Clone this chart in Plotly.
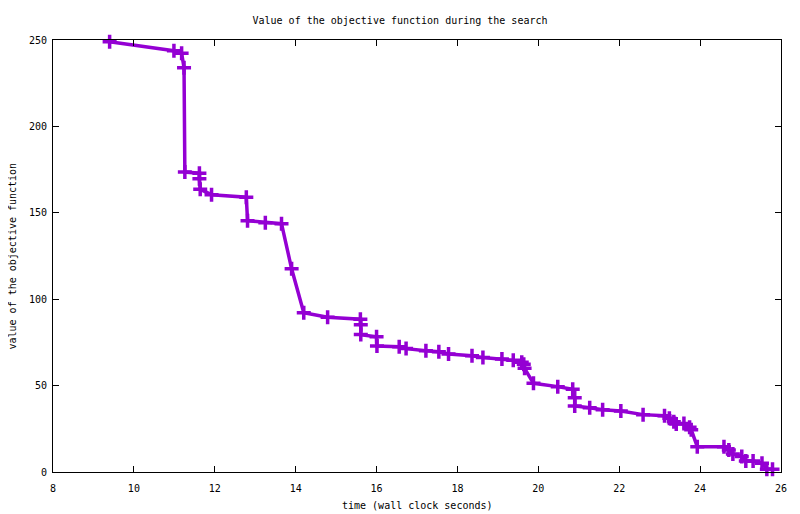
import plotly.graph_objects as go

time_s = [9.40, 10.99, 11.18, 11.24, 11.26, 11.62, 11.62, 11.64, 11.92, 12.78,
          12.81, 13.25, 13.65, 13.90, 14.20, 14.79, 15.60, 15.61, 15.61, 16.00,
          16.01, 16.56, 16.73, 17.22, 17.54, 17.78, 18.36, 18.63, 19.10, 19.38,
          19.59, 19.64, 19.66, 19.88, 20.48, 20.85, 20.90, 20.90, 21.27, 21.59,
          22.04, 22.59, 23.12, 23.24, 23.35, 23.41, 23.60, 23.74, 23.78, 23.93,
          24.59, 24.71, 24.81, 25.03, 25.13, 25.31, 25.53, 25.65, 25.79]
objective = [249.0, 243.8, 242.3, 234.0, 173.6, 172.9, 169.7, 163.6, 160.5, 159.0,
             145.4, 144.3, 143.7, 117.6, 92.2, 89.5, 88.4, 85.2, 79.5, 78.3,
             72.9, 72.5, 71.4, 70.2, 69.6, 68.3, 67.3, 66.2, 65.4, 64.6,
             63.5, 62.3, 60.0, 51.3, 49.4, 47.9, 43.0, 38.2, 37.2, 36.0,
             35.3, 33.2, 32.6, 31.1, 29.1, 27.8, 28.0, 25.9, 24.5, 14.6,
             14.6, 12.7, 10.4, 8.9, 6.4, 6.4, 5.0, 1.6, 1.6]

x_ticks = [8, 10, 12, 14, 16, 18, 20, 22, 24, 26]
y_ticks = [0, 50, 100, 150, 200, 250]

FONT = "DejaVu Sans Mono"
COLOR = "#9400D3"
TEXT_FONT = dict(family=FONT, size=10, color="black")

fig = go.Figure()
fig.add_trace(go.Scatter(
    x=time_s, y=objective, mode="lines+markers",
    line=dict(color=COLOR, width=3.5),
    marker=dict(symbol="cross-thin", size=10, color=COLOR,
                line=dict(color=COLOR, width=3.5)),
    showlegend=False, cliponaxis=False,
))

axis_common = dict(
    showline=True, linecolor="black", linewidth=1, mirror="ticks",
    ticks="inside", ticklen=6, tickcolor="black", tickwidth=1,
    showgrid=False, zeroline=False, automargin=False,
    tickfont=TEXT_FONT,
)

fig.update_layout(
    width=784, height=506,
    margin=dict(l=45, r=11, t=32, b=42),
    paper_bgcolor="white", plot_bgcolor="white",
    title=dict(text="Value of the objective function during the search",
               x=0.5, xanchor="center", y=1, yanchor="middle", pad=dict(t=0),
               yref="container", font=TEXT_FONT),
    xaxis=dict(range=[8, 26], tickvals=x_ticks, ticktext=[str(v) for v in x_ticks],
               ticklabelstandoff=7, **axis_common),
    yaxis=dict(range=[0, 250], tickvals=y_ticks, ticktext=[str(v) for v in y_ticks],
               ticklabelstandoff=3, **axis_common),
    annotations=[
        dict(text="time (wall clock seconds)", xref="paper", yref="paper",
             x=0.5, y=0, xanchor="center", yanchor="middle", yshift=-33,
             showarrow=False, font=TEXT_FONT),
        dict(text="value of the objective function", xref="paper", yref="paper",
             x=0, y=0.5, xanchor="center", yanchor="middle", xshift=-41.5,
             textangle=-90, showarrow=False, font=TEXT_FONT),
        dict(text="", xref="paper", yref="paper", x=0.5, y=1, showarrow=False,
             visible=False),
    ],
)
# place the title 20 px from the top of the window (8 px body margin)
fig.update_layout(title=dict(y=1 - 12 / 506))

fig.write_html("out.html")
